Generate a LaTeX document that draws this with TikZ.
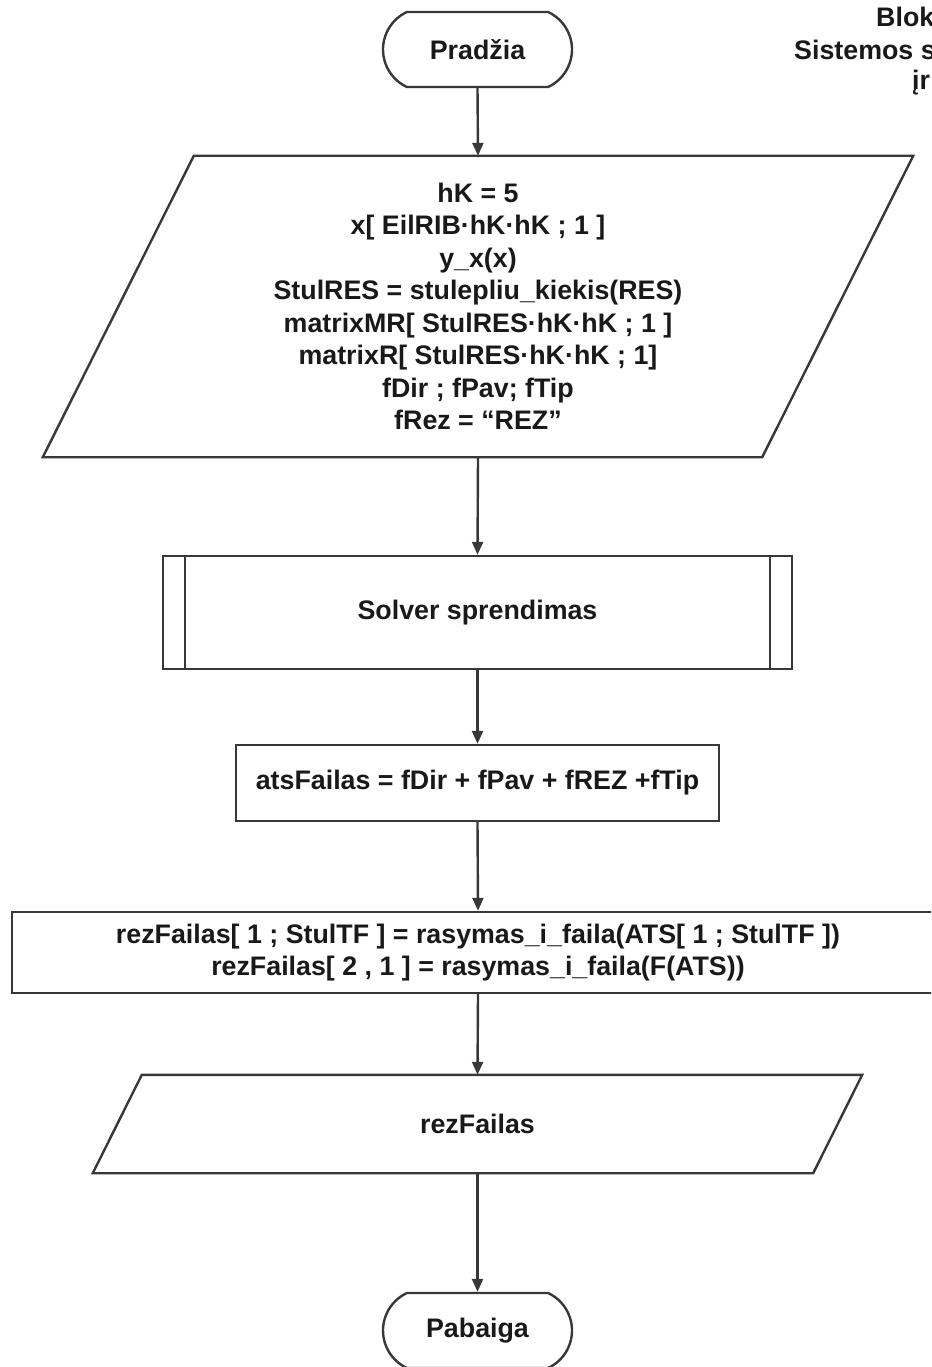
\documentclass[tikz,border=0pt]{standalone}
\usepackage{fontspec}
\setmainfont{Liberation Sans}
\usetikzlibrary{arrows.meta,shapes.misc,calc}

\tikzset{
  ink/.style={draw=black!78, line width=2.4pt},
  txt/.style={font=\bfseries\fontsize{26.8}{32.5}\selectfont, text=black!90, align=center},
  terminal/.style={ink, txt, rounded rectangle, rounded rectangle arc length=130,
    minimum width=189pt, minimum height=75pt, inner sep=0pt},
  procbox/.style={ink, txt, rectangle, inner sep=0pt},
  iobox/.style={txt, rectangle, inner sep=0pt},
  flow/.style={ink, -{Triangle[length=13pt,width=11pt]}},
}

\begin{document}
\begin{tikzpicture}[x=1pt, y=-1pt]
\useasboundingbox (0,0) rectangle (931,1367);
\clip (0,0) rectangle (931,1367);

% start
\node[terminal] (start) at (477.5,49.5) {Pradžia};

% data declaration (parallelogram drawn around an invisible frame)
\node[iobox, minimum width=719pt, minimum height=301pt] (decl) at (478,306.5)
  {hK = 5\\
   x[ EilRIB·hK·hK ; 1 ]\\
   y\_x(x)\\
   StulRES = stulepliu\_kiekis(RES)\\
   matrixMR[ StulRES·hK·hK ; 1 ]\\
   matrixR[ StulRES·hK·hK ; 1]\\
   fDir ; fPav; fTip\\
   fRez = “REZ”};
\draw[ink, line join=miter]
  ($(decl.north west)+(75.5,0)$) -- ($(decl.north east)+(75.5,0)$)
  -- ($(decl.south east)+(-75.5,0)$) -- ($(decl.south west)+(-75.5,0)$) -- cycle;

% predefined process
\node[procbox, minimum width=629pt, minimum height=113pt] (solver) at (477.5,612.5)
  {Solver sprendimas};
\draw[ink] ($(solver.north west)+(23,0)$) -- ($(solver.south west)+(23,0)$);
\draw[ink] ($(solver.north east)+(-23,0)$) -- ($(solver.south east)+(-23,0)$);

% file name
\node[procbox, minimum width=483pt, minimum height=76pt] (ats) at (477.5,783)
  {atsFailas = fDir + fPav + fREZ +fTip};

% writing results
\node[procbox, minimum width=932pt, minimum height=81pt] (write) at (478,952.5)
  {rezFailas[ 1 ; StulTF ] = rasymas\_i\_faila(ATS[ 1 ; StulTF ])\\
   rezFailas[ 2 , 1 ] = rasymas\_i\_faila(F(ATS))};

% output
\node[iobox, minimum width=720pt, minimum height=98pt] (out) at (477.5,1124)
  {rezFailas};
\draw[ink, line join=miter]
  ($(out.north west)+(24.5,0)$) -- ($(out.north east)+(24.5,0)$)
  -- ($(out.south east)+(-24.5,0)$) -- ($(out.south west)+(-24.5,0)$) -- cycle;

% end
\node[terminal] (stop) at (477.5,1330.5) {Pabaiga};

% connectors
\draw[flow] (start.south) -- (decl.north);
\draw[flow] (decl.south) -- (solver.north);
\draw[flow] (solver.south) -- (ats.north);
\draw[flow] (ats.south) -- (write.north);
\draw[flow] (write.south) -- (out.north);
\draw[flow] (out.south) -- (stop.north);

% title block at the upper right
\node[txt, anchor=west, inner sep=0pt] (t1) at (876,17) {Blok};
\node[txt, anchor=west, inner sep=0pt] (t2) at (794,50) {Sistemos s};
\node[txt, anchor=west, inner sep=0pt] (t3) at (912,83) {įr};
\end{tikzpicture}
\end{document}
